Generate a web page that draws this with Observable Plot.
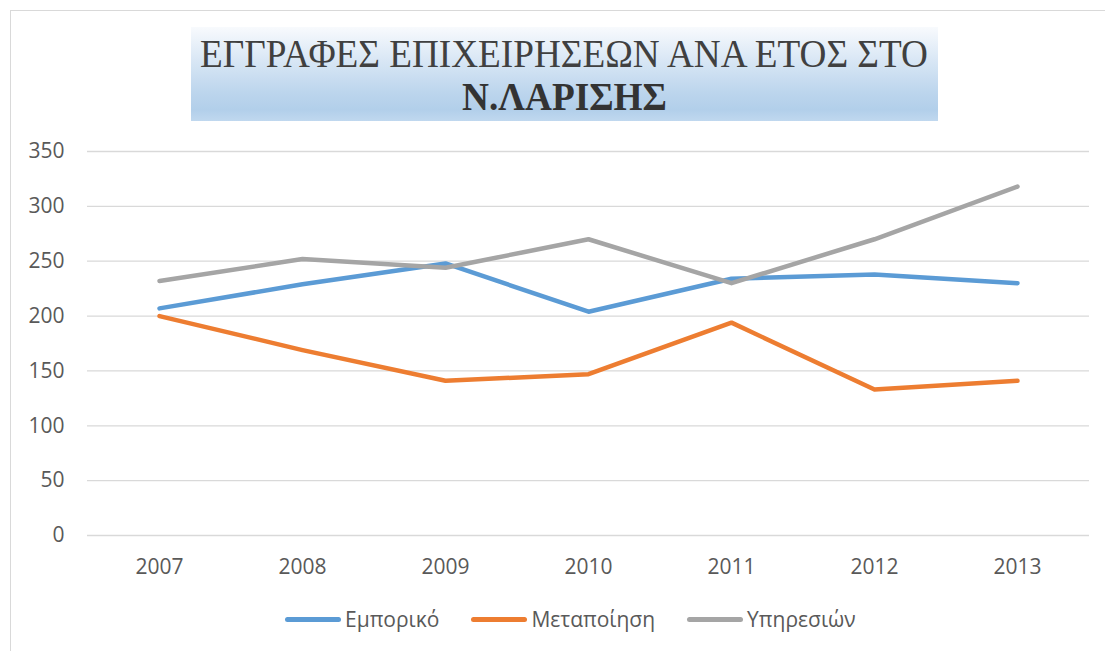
<!DOCTYPE html>
<html>
<head>
<meta charset="utf-8">
<script src="https://cdn.jsdelivr.net/npm/d3@7"></script>
<script src="https://cdn.jsdelivr.net/npm/@observablehq/plot@0.6"></script>
<style>
  body { margin: 0; background: #fff; }
  #wrap { position: relative; width: 1105px; height: 651px; overflow: hidden; background: #fff; }
  #frame { position: absolute; left: 10px; top: 10px; width: 1300px; height: 900px; border: 1.5px solid #d9d9d9; box-sizing: border-box; }
  #title { position: absolute; left: 191px; top: 27px; width: 747px; height: 94px;
    background: linear-gradient(to bottom, #f8fafd 0%, #d9e7f5 35%, #bcd5ed 70%, #b2cfea 88%, #c0d8ef 100%); }
  #title svg { display: block; overflow: visible; }
  #chart { position: absolute; left: 0; top: 130px; }
  #legend { position: absolute; left: 285px; top: 606px; height: 26px; display: flex; align-items: center;
    font-family: "Open Sans", sans-serif; font-size: 21px; color: #595959; white-space: nowrap; }
  .item { display: flex; align-items: center; margin-right: 32px; }
  .sw { display: inline-block; width: 56px; height: 5px; border-radius: 3px; margin-right: 4px; }
</style>
</head>
<body>
<div id="wrap">
  <div id="frame"></div>
  <div id="title">
    <svg width="747" height="94">
      <text id="t1" font-family="'Liberation Serif', 'Times New Roman', serif" font-size="39" fill="#404040">ΕΓΓΡΑΦΕΣ ΕΠΙΧΕΙΡΗΣΕΩΝ ΑΝΑ ΕΤΟΣ ΣΤΟ</text>
      <text id="t2" font-family="'Liberation Serif', 'Times New Roman', serif" font-size="41" font-weight="bold" fill="#333333">Ν.ΛΑΡΙΣΗΣ</text>
    </svg>
  </div>
  <div id="chart"></div>
  <div id="legend"></div>
</div>
<script>
const years = ["2007", "2008", "2009", "2010", "2011", "2012", "2013"];
const seriesNames = ["Εμπορικό", "Μεταποίηση", "Υπηρεσιών"];
const emporiko = [207, 229, 248, 204, 234, 238, 230];
const metapoiisi = [200, 169, 141, 147, 194, 133, 141];
const ypiresion = [232, 252, 244, 270, 230, 270, 318];
const colors = ["#5B9BD5", "#ED7D31", "#A5A5A5"];
const yTicks = [0, 50, 100, 150, 200, 250, 300, 350];

// Title lines: fit each to the reference width with a horizontal scale
function fitTitle(id, x, y, targetWidth) {
  const t = document.getElementById(id);
  const w = t.getComputedTextLength();
  const sx = targetWidth / w;
  t.setAttribute("transform", `translate(${x},${y}) scale(${sx},1)`);
}
fitTitle("t1", 9, 40, 728);
fitTitle("t2", 271, 83, 205);

const seriesValues = [emporiko, metapoiisi, ypiresion];
const data = seriesNames.flatMap((s, i) =>
  seriesValues[i].map((v, j) => ({ series: s, year: years[j], value: v }))
);

const chart = Plot.plot({
  width: 1105,
  height: 460,
  marginTop: 21,
  marginBottom: 55,
  marginLeft: 87,
  marginRight: 16,
  style: { fontFamily: "'Open Sans', sans-serif", fontSize: "21px", color: "#595959", background: "transparent", overflow: "visible" },
  x: { type: "point", domain: years, padding: 0.5, axis: null },
  y: { domain: [0, 350], axis: null },
  color: { domain: seriesNames, range: colors },
  marks: [
    Plot.ruleY(yTicks, { stroke: "#d9d9d9", strokeWidth: 1.3 }),
    Plot.axisY(yTicks, { tickSize: 0, tickPadding: 23, fill: "#595959", fontSize: 21, label: null }),
    Plot.axisX(years, { tickSize: 0, tickPadding: 24, fill: "#595959", fontSize: 21, label: null }),
    Plot.line(data, { x: "year", y: "value", z: "series", stroke: "series", strokeWidth: 4.5, strokeLinecap: "round", strokeLinejoin: "round" })
  ]
});
document.getElementById("chart").appendChild(chart);

const legend = document.getElementById("legend");
seriesNames.forEach((s, i) => {
  const item = document.createElement("div");
  item.className = "item";
  const sw = document.createElement("span");
  sw.className = "sw";
  sw.style.background = colors[i];
  const label = document.createElement("span");
  label.textContent = s;
  item.appendChild(sw);
  item.appendChild(label);
  legend.appendChild(item);
});
</script>
</body>
</html>
